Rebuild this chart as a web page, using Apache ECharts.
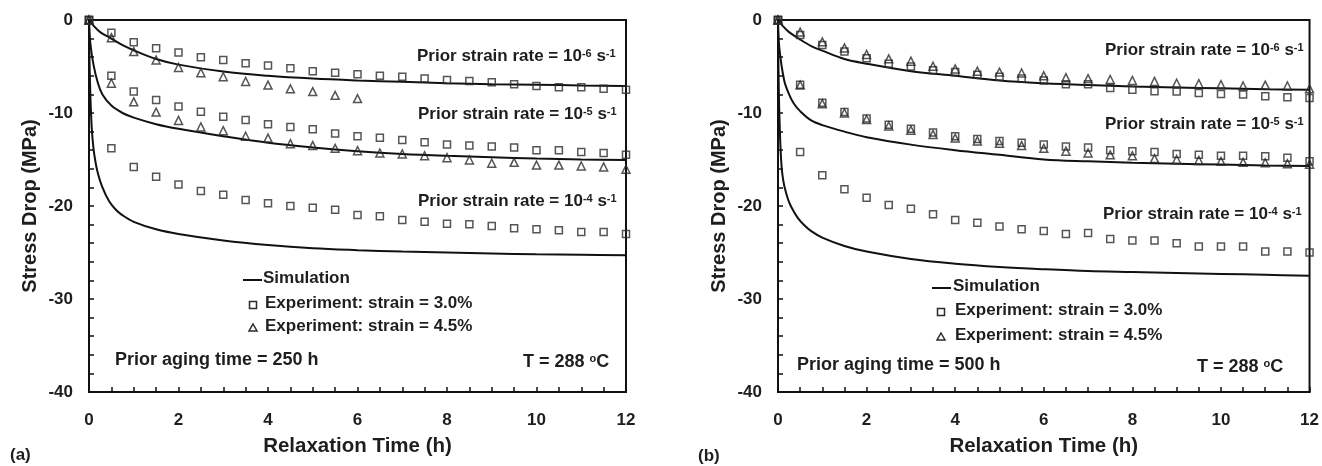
<!DOCTYPE html>
<html>
<head>
<meta charset="utf-8">
<script src="https://cdn.jsdelivr.net/npm/echarts@6/dist/echarts.min.js"></script>
<style>html,body{margin:0;padding:0;background:#fff}#c{width:1322px;height:466px}</style>
</head>
<body>
<div id="c"></div>
<script>
// ---------- DATA ----------
const tExp = [0,0.5,1,1.5,2,2.5,3,3.5,4,4.5,5,5.5,6,6.5,7,7.5,8,8.5,9,9.5,10,10.5,11,11.5,12];
const tExpShort = [0,0.5,1,1.5,2,2.5,3,3.5,4,4.5,5,5.5,6];
const xTicks = [0,2,4,6,8,10,12];
const yTicks = [0,-10,-20,-30,-40];

// Panel (a): prior aging 250 h
const aExp3_r6 = [0,-1.36,-2.4,-3.05,-3.5,-4.0,-4.3,-4.66,-4.9,-5.2,-5.5,-5.67,-5.84,-6.0,-6.1,-6.3,-6.45,-6.56,-6.7,-6.9,-7.1,-7.24,-7.24,-7.38,-7.5];
const aExp45_r6 = [0,-1.9,-3.4,-4.3,-5.1,-5.66,-6.1,-6.6,-7.0,-7.4,-7.7,-8.1,-8.45];
const aExp3_r5 = [0,-6.0,-7.7,-8.6,-9.3,-9.86,-10.4,-10.75,-11.2,-11.5,-11.76,-12.2,-12.5,-12.65,-12.9,-13.15,-13.4,-13.5,-13.6,-13.7,-14.0,-14.0,-14.2,-14.3,-14.5];
const aExp45_r5 = [0,-6.8,-8.8,-9.9,-10.8,-11.5,-11.9,-12.5,-12.7,-13.3,-13.5,-13.8,-14.05,-14.3,-14.4,-14.6,-14.8,-15.05,-15.4,-15.3,-15.6,-15.6,-15.7,-15.8,-16.05];
const aExp3_r4 = [0,-13.8,-15.8,-16.85,-17.7,-18.4,-18.8,-19.35,-19.7,-20.0,-20.2,-20.4,-20.97,-21.1,-21.5,-21.7,-21.9,-21.95,-22.15,-22.4,-22.5,-22.6,-22.8,-22.8,-23.0];

const aSimT_r6 = [0,0.1,0.25,0.5,0.75,1,1.5,2,3,4,5,6,7,8,9,10,11,12];
const aSim_r6  = [0,-0.6,-1.3,-2.0,-2.7,-3.25,-4.2,-4.8,-5.55,-6.0,-6.3,-6.5,-6.65,-6.8,-6.9,-6.95,-7.05,-7.1];
const aSimT_r5 = [0,0.03,0.1,0.2,0.3,0.5,0.75,1,1.5,2,3,4,5,6,7,8,9,10,11,12];
const aSim_r5  = [0,-2.5,-4.8,-6.8,-8.0,-9.2,-10.0,-10.5,-11.2,-11.7,-12.5,-13.2,-13.7,-14.1,-14.4,-14.6,-14.75,-14.9,-15.0,-15.05];
const aSimT_r4 = [0,0.01,0.03,0.06,0.1,0.15,0.2,0.3,0.45,0.6,0.75,1,1.5,2,3,4,5,6,7,8,9,10,11,12];
const aSim_r4  = [0,-4,-8,-11.5,-13.8,-15.4,-16.5,-18.0,-19.5,-20.4,-21.0,-21.7,-22.5,-23.0,-23.7,-24.2,-24.55,-24.75,-24.9,-25.0,-25.1,-25.2,-25.25,-25.3];

// Panel (b): prior aging 500 h
const bExp3_r6 = [0,-1.6,-2.7,-3.4,-4.1,-4.7,-5.0,-5.4,-5.6,-5.9,-6.1,-6.3,-6.5,-6.9,-6.9,-7.3,-7.5,-7.66,-7.7,-7.84,-7.95,-8.0,-8.2,-8.3,-8.4];
const bExp45_r6 = [0,-1.3,-2.35,-3.0,-3.7,-4.18,-4.43,-4.97,-5.26,-5.5,-5.6,-5.7,-6.0,-6.2,-6.3,-6.4,-6.5,-6.6,-6.8,-6.85,-6.95,-7.1,-7.0,-7.1,-7.4];
const bExp3_r5 = [0,-6.95,-8.9,-9.9,-10.6,-11.25,-11.7,-12.1,-12.5,-12.8,-13.0,-13.2,-13.4,-13.6,-13.7,-14.0,-14.1,-14.2,-14.4,-14.5,-14.6,-14.6,-14.66,-14.8,-15.2];
const bExp45_r5 = [0,-7.0,-9.0,-10.0,-10.7,-11.4,-11.85,-12.3,-12.7,-13.0,-13.25,-13.5,-13.8,-14.1,-14.3,-14.5,-14.6,-14.9,-15.0,-15.1,-15.2,-15.3,-15.35,-15.45,-15.5];
const bExp3_r4 = [0,-14.2,-16.7,-18.2,-19.1,-19.9,-20.3,-20.9,-21.5,-21.8,-22.2,-22.5,-22.7,-23.0,-22.9,-23.55,-23.7,-23.7,-24.0,-24.35,-24.35,-24.35,-24.9,-24.9,-25.0];

const bSimT_r6 = [0,0.1,0.25,0.5,0.75,1,1.5,2,3,4,5,6,7,8,9,10,11,12];
const bSim_r6  = [0,-0.6,-1.3,-2.1,-2.8,-3.3,-4.2,-4.7,-5.5,-6.0,-6.5,-6.8,-7.0,-7.15,-7.25,-7.35,-7.45,-7.5];
const bSimT_r5 = [0,0.03,0.14,0.25,0.36,0.5,0.75,1,1.5,2,3,4,5,6,7,8,9,10,11,12];
const bSim_r5  = [0,-3,-6.5,-8.0,-9.0,-9.8,-10.8,-11.3,-12.0,-12.6,-13.4,-14.0,-14.5,-15.0,-15.2,-15.35,-15.45,-15.55,-15.65,-15.7];
const bSimT_r4 = [0,0.01,0.03,0.07,0.12,0.22,0.3,0.45,0.6,0.75,1,1.5,2,3,4,5,6,7,8,9,10,11,12];
const bSim_r4  = [0,-5,-10,-15.0,-17.3,-19.2,-20.1,-21.3,-22.1,-22.7,-23.4,-24.3,-24.9,-25.7,-26.2,-26.55,-26.8,-27.0,-27.1,-27.2,-27.3,-27.4,-27.5];

const xTitle = 'Relaxation Time (h)';
const yTitle = 'Stress Drop (MPa)';
const legendSim = 'Simulation';
const legendExp3 = 'Experiment: strain = 3.0%';
const legendExp45 = 'Experiment: strain = 4.5%';
const rateExps = ['-6', '-5', '-4'];
const agingA = 'Prior aging time = 250 h';
const agingB = 'Prior aging time = 500 h';

// ---------- BUILD ----------
const FF = '"Liberation Sans", Arial, sans-serif';
const TXT = '#1e1e1e';
const LINE = '#111';
const MK = '#2a2a2a';
const pair = (xs, ys) => xs.map((t, i) => [t, ys[i]]);

function axesFor(g) {
  return {
    x: {
      type: 'value', gridIndex: g, min: 0, max: 12, interval: 2,
      name: xTitle, nameLocation: 'middle', nameGap: 44,
      nameTextStyle: {fontFamily: FF, fontWeight: 'bold', fontSize: 20.5, color: TXT},
      axisLine: {show: true, onZero: false, lineStyle: {color: LINE, width: 2}},
      axisTick: {show: true, inside: true, length: 5, lineStyle: {color: LINE, width: 1.5}},
      minorTick: {show: true, splitNumber: 4, length: 5, lineStyle: {color: LINE, width: 1.5}},
      splitLine: {show: false}, minorSplitLine: {show: false},
      axisLabel: {fontFamily: FF, fontWeight: 'bold', fontSize: 17, color: TXT, margin: 20,
        formatter: v => xTicks.includes(v) ? String(v) : ''}
    },
    y: {
      type: 'value', gridIndex: g, min: -40, max: 0, interval: 10,
      name: yTitle, nameLocation: 'middle', nameGap: 49, nameRotate: 90,
      nameTextStyle: {fontFamily: FF, fontWeight: 'bold', fontSize: 20, color: TXT},
      axisLine: {show: true, onZero: false, lineStyle: {color: LINE, width: 2}},
      axisTick: {show: true, inside: true, length: 5, lineStyle: {color: LINE, width: 1.5}},
      minorTick: {show: true, splitNumber: 5, length: 5, lineStyle: {color: LINE, width: 1.5}},
      splitLine: {show: false}, minorSplitLine: {show: false},
      axisLabel: {fontFamily: FF, fontWeight: 'bold', fontSize: 17, color: TXT, margin: 16,
        formatter: v => yTicks.includes(v) ? String(v) : ''}
    }
  };
}
const A0 = axesFor(0), A1 = axesFor(1);

function sim(g, xs, ys) {
  return {type: 'line', xAxisIndex: g, yAxisIndex: g, data: pair(xs, ys), showSymbol: false, symbol: 'none',
    smooth: 0.35, lineStyle: {color: LINE, width: 2}, z: 3, silent: true};
}
function exp(g, xs, ys, shape) {
  return {type: 'scatter', xAxisIndex: g, yAxisIndex: g, data: pair(xs, ys), symbol: shape,
    symbolSize: shape === 'rect' ? 7 : 8,
    itemStyle: {color: 'rgba(255,255,255,0)', borderColor: MK, borderWidth: 1.5}, z: 4, silent: true};
}

const rich = {
  a: {fontFamily: FF, fontWeight: 'bold', fontSize: 17, fill: TXT, color: TXT},
  s: {fontFamily: FF, fontWeight: 'bold', fontSize: 11, fill: TXT, color: TXT, verticalAlign: 'top'},
  b: {fontFamily: FF, fontWeight: 'bold', fontSize: 18, fill: TXT, color: TXT}
};
function rateText(x, y, e) {
  return {type: 'text', left: x, top: y - 11, style: {
    text: '{a|Prior strain rate = 10}{s|' + e + '}{a| s}{s|-1}', rich: rich}};
}
function plainText(x, y, str, size) {
  return {type: 'text', left: x, top: y - size * 0.6, style: {text: str, fill: TXT,
    font: 'bold ' + size + 'px ' + FF}};
}
function legendBlock(lx, mx, tx, y1, y2, y3) {
  return [
    {type: 'line', shape: {x1: lx, y1: y1, x2: lx + 19, y2: y1}, style: {stroke: LINE, lineWidth: 2}},
    plainText(tx - 2, y1, legendSim, 17),
    {type: 'rect', shape: {x: mx - 3.5, y: y2 - 3.5, width: 7, height: 7}, style: {fill: 'none', stroke: MK, lineWidth: 1.5}},
    plainText(tx, y2, legendExp3, 17),
    {type: 'polygon', shape: {points: [[mx, y3 - 4], [mx + 4, y3 + 3], [mx - 4, y3 + 3]]}, style: {fill: 'none', stroke: MK, lineWidth: 1.5}},
    plainText(tx, y3, legendExp45, 17)
  ];
}

const option = {
  animation: false,
  backgroundColor: '#fff',
  grid: [
    {left: 89, top: 20, width: 537, height: 372, show: true, borderColor: LINE, borderWidth: 2, backgroundColor: 'transparent'},
    {left: 778, top: 20, width: 537, height: 372, show: true, borderColor: LINE, borderWidth: 2, backgroundColor: 'transparent'}
  ],
  xAxis: [A0.x, A1.x],
  yAxis: [A0.y, A1.y],
  series: [
    sim(0, aSimT_r6, aSim_r6), sim(0, aSimT_r5, aSim_r5), sim(0, aSimT_r4, aSim_r4),
    exp(0, tExp, aExp3_r6, 'rect'), exp(0, tExpShort, aExp45_r6, 'triangle'),
    exp(0, tExp, aExp3_r5, 'rect'), exp(0, tExp, aExp45_r5, 'triangle'),
    exp(0, tExp, aExp3_r4, 'rect'),
    sim(1, bSimT_r6, bSim_r6), sim(1, bSimT_r5, bSim_r5), sim(1, bSimT_r4, bSim_r4),
    exp(1, tExp, bExp3_r6, 'rect'), exp(1, tExp, bExp45_r6, 'triangle'),
    exp(1, tExp, bExp3_r5, 'rect'), exp(1, tExp, bExp45_r5, 'triangle'),
    exp(1, tExp, bExp3_r4, 'rect')
  ],
  graphic: [
    rateText(417, 59, rateExps[0]), rateText(418, 117, rateExps[1]), rateText(418, 204, rateExps[2]),
    rateText(1105, 53, rateExps[0]), rateText(1105, 127, rateExps[1]), rateText(1103, 217, rateExps[2]),
    ...legendBlock(243, 253, 265, 280, 305, 328),
    ...legendBlock(932, 941, 955, 288, 312, 337),
    plainText(115, 362, agingA, 18),
    plainText(797, 367, agingB, 18),
    {type: 'text', left: 523, top: 353, style: {text: '{b|T = 288 }{s|o}{b|C}', rich: rich}},
    {type: 'text', left: 1197, top: 358, style: {text: '{b|T = 288 }{s|o}{b|C}', rich: rich}},
    plainText(10, 457, '(a)', 17),
    plainText(698, 458, '(b)', 17)
  ]
};
const chart = echarts.init(document.getElementById('c'), null, {renderer: 'canvas'});
chart.setOption(option);
</script>
</body>
</html>
